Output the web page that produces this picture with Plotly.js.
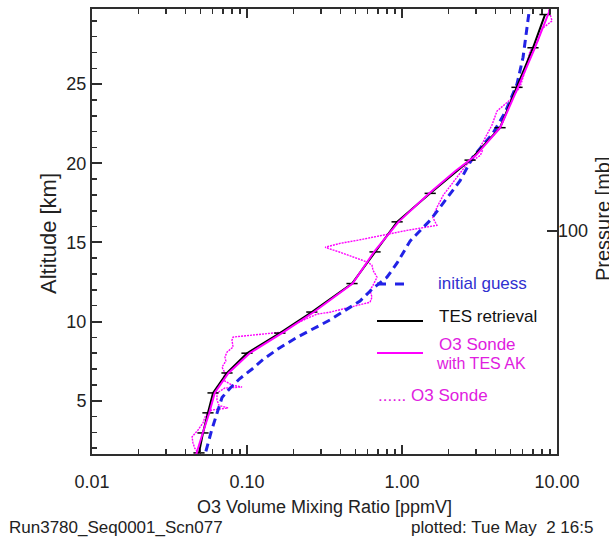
<!DOCTYPE html>
<html>
<head>
<meta charset="utf-8">
<script src="https://cdn.plot.ly/plotly-3.0.1.min.js"></script>
<style>html,body{margin:0;padding:0;background:#fff;}#chart{width:609px;height:542px;}</style>
</head>
<body>
<div id="chart"></div>
<script>
// ---- data ----
var guessAlt = [1.0, 1.6, 3.1, 4.2, 5.2, 5.8, 6.4, 7.0, 7.6, 8.3, 9.0, 10.1, 11.3, 12.1, 12.8, 13.7, 15.1, 16.4, 17.5, 18.9, 20.4, 21.9, 23.2, 25.0, 26.7, 29.3, 30.5];
var guessVmr = [0.052, 0.0536, 0.059, 0.064, 0.069, 0.078, 0.090, 0.108, 0.127, 0.160, 0.210, 0.343, 0.536, 0.650, 0.80, 0.93, 1.13, 1.52, 1.84, 2.37, 2.87, 3.86, 4.62, 5.52, 6.04, 6.6, 6.8];

var tesAlt = [1.7, 2.96, 4.23, 5.49, 6.75, 8.0, 9.27, 10.6, 12.4, 14.4, 16.3, 18.1, 20.2, 22.25, 24.8, 27.3, 29.4];
var tesVmr = [0.049, 0.052, 0.056, 0.0604, 0.0743, 0.100, 0.163, 0.262, 0.476, 0.67, 0.93, 1.52, 2.75, 4.29, 5.52, 7.0, 8.37];

var akAlt = [1.0, 1.6, 3.0, 4.2, 5.5, 6.75, 8.0, 9.3, 10.6, 12.4, 14.4, 16.3, 18.1, 19.5, 20.5, 22.25, 24.8, 27.3, 29.7, 30.5];
var akVmr = [0.046, 0.047, 0.052, 0.057, 0.062, 0.076, 0.104, 0.17, 0.27, 0.48, 0.66, 0.95, 1.5, 2.2, 3.0, 4.3, 5.6, 7.2, 9.0, 9.4];

var sondeAlt = [1.63, 1.70, 2.0, 2.33, 2.71, 3.15, 3.59, 3.97, 4.25, 4.41, 4.54, 4.7, 5.04, 5.49, 5.80, 5.86, 5.99, 6.31, 6.75, 7.12, 7.5, 7.76, 8.07, 8.39, 8.83, 9.02, 9.12, 9.2, 9.33, 9.5, 9.9, 10.28, 10.47, 10.59, 11.03, 11.22, 11.54, 11.98, 12.29, 12.8, 13.24, 13.56, 13.75, 14.0, 14.38, 14.69, 14.94, 15.13, 15.45, 15.76, 16.08, 16.58, 17.21, 18.0, 18.7, 19.3, 19.9, 20.5, 20.8, 21.0, 21.5, 22.4, 23.3, 24.0, 24.8, 25.8, 27.1, 27.7, 28.5, 29.0, 29.75];
var sondeVmr = [0.049, 0.0483, 0.046, 0.0448, 0.0442, 0.0483, 0.052, 0.0536, 0.056, 0.0594, 0.0754, 0.066, 0.064, 0.064, 0.0721, 0.0929, 0.080, 0.070, 0.0721, 0.069, 0.073, 0.0721, 0.0743, 0.0813, 0.080, 0.0813, 0.10, 0.121, 0.168, 0.18, 0.21, 0.255, 0.283, 0.343, 0.513, 0.622, 0.640, 0.622, 0.650, 0.69, 0.65, 0.64, 0.60, 0.513, 0.398, 0.319, 0.398, 0.513, 0.754, 1.077, 1.68, 1.58, 1.68, 1.85, 2.1, 2.35, 2.6, 3.2, 3.3, 3.19, 3.4, 3.8, 4.1, 4.97, 5.77, 6.2, 6.7, 7.5, 8.0, 9.3, 8.8];

var xTickLabelFormat = ".2f";          // gives 0.01, 0.10, 1.00, 10.00
var yTickStep = 5, yMinorStep = 1;
var pTickAlt = [15.75];
var pTickText = ["100"];

// ---- layout helpers (pixel -> paper) ----
var L = 92, R = 557, T = 9, B = 454;
function px(x){ return (x - L) / (R - L); }
function py(y){ return (B - y) / (B - T); }

var FONT = "Liberation Sans, Arial, sans-serif";
var BLUE = "#2222e6", MAG = "#ff00ff", AX = "#2e2e2e";

var traces = [
  {x: sondeVmr, y: sondeAlt, mode: "lines", line: {color: MAG, width: 1.4, dash: "2px,1px"}, showlegend: false, hoverinfo: "skip"},
  {x: guessVmr, y: guessAlt, mode: "lines", line: {color: BLUE, width: 3, dash: "8px,5px"}, showlegend: false, hoverinfo: "skip"},
  {x: tesVmr, y: tesAlt, mode: "lines+markers", line: {color: "#000", width: 2},
   marker: {symbol: "line-ew", size: 8, line: {color: "#000", width: 1.5}}, showlegend: false, hoverinfo: "skip"},
  {x: akVmr, y: akAlt, mode: "lines", line: {color: MAG, width: 2}, showlegend: false, hoverinfo: "skip"},
  {x: [], y: [], yaxis: "y2", showlegend: false}
];

var yRange = [1.63, 29.75];
var xRange = [-2, 1];

var layout = {
  width: 609, height: 542,
  margin: {l: L, r: 609 - R, t: T, b: 542 - B, pad: 0},
  paper_bgcolor: "#fff", plot_bgcolor: "#fff",
  font: {family: FONT, color: "#222"},
  showlegend: false,
  xaxis: {
    type: "log", range: xRange,
    tickmode: "linear", tick0: 0, dtick: 1, tickformat: xTickLabelFormat,
    ticks: "inside", ticklen: 9, tickwidth: 2, tickcolor: AX,
    showline: true, linecolor: AX, linewidth: 2, mirror: "ticks",
    showgrid: false, zeroline: false,
    tickfont: {family: FONT, size: 18, color: "#222"},
    ticklabelstandoff: 10,
    minor: {ticks: "inside", ticklen: 5, tickwidth: 1.5, tickcolor: AX, dtick: "D1", showgrid: false},
    title: {text: "O3 Volume Mixing Ratio [ppmV]", font: {family: FONT, size: 18, color: "#222"}, standoff: 10}
  },
  yaxis: {
    range: yRange,
    tickmode: "linear", tick0: 0, dtick: yTickStep,
    ticks: "inside", ticklen: 10, tickwidth: 2, tickcolor: AX,
    showline: true, linecolor: AX, linewidth: 2, mirror: true,
    showgrid: false, zeroline: false,
    tickfont: {family: FONT, size: 18, color: "#222"},
    minor: {ticks: "inside", ticklen: 5, tickwidth: 1.5, tickcolor: AX, tick0: 0, dtick: yMinorStep, showgrid: false}
  },
  yaxis2: {
    overlaying: "y", side: "right", range: yRange,
    tickmode: "array", tickvals: pTickAlt, ticktext: pTickText,
    ticks: "inside", ticklen: 10, tickwidth: 2, tickcolor: AX,
    showline: false, showgrid: false, zeroline: false,
    tickfont: {family: FONT, size: 18, color: "#222"}
  },
  shapes: [
    {type: "line", xref: "paper", yref: "paper", x0: px(377), x1: px(411), y0: py(284), y1: py(284), line: {color: BLUE, width: 3, dash: "9px,9px"}},
    {type: "line", xref: "paper", yref: "paper", x0: px(377), x1: px(423), y0: py(321), y1: py(321), line: {color: "#000", width: 2}},
    {type: "line", xref: "paper", yref: "paper", x0: px(377), x1: px(423), y0: py(353), y1: py(353), line: {color: MAG, width: 2}}
  ],
  annotations: [
    {text: "Altitude [km]", xref: "paper", yref: "paper", x: px(48), y: py(234), xanchor: "center", yanchor: "middle", textangle: -90, showarrow: false, font: {family: FONT, size: 22, color: "#222"}},
    {text: "initial guess", xref: "paper", yref: "paper", x: px(436), y: py(283), xanchor: "left", yanchor: "middle", showarrow: false, font: {family: FONT, size: 17, color: "#3030d0"}},
    {text: "TES retrieval", xref: "paper", yref: "paper", x: px(437), y: py(316), xanchor: "left", yanchor: "middle", showarrow: false, font: {family: FONT, size: 17, color: "#111"}},
    {text: "O3 Sonde", xref: "paper", yref: "paper", x: px(477), y: py(344), xanchor: "center", yanchor: "middle", showarrow: false, font: {family: FONT, size: 17, color: "#e020e0"}},
    {text: "with TES AK", xref: "paper", yref: "paper", x: px(481), y: py(363), xanchor: "center", yanchor: "middle", showarrow: false, font: {family: FONT, size: 16, color: "#e020e0"}},
    {text: "...... O3 Sonde", xref: "paper", yref: "paper", x: px(376), y: py(395), xanchor: "left", yanchor: "middle", showarrow: false, font: {family: FONT, size: 17, color: "#e020e0"}},
    {text: "Pressure [mb]", xref: "paper", yref: "paper", x: px(603), y: py(219), xanchor: "center", yanchor: "middle", textangle: -90, showarrow: false, font: {family: FONT, size: 20, color: "#222"}},
    {text: "Run3780_Seq0001_Scn077", xref: "paper", yref: "paper", x: px(7), y: py(527), xanchor: "left", yanchor: "middle", showarrow: false, font: {family: FONT, size: 17, color: "#222"}},
    {text: "plotted: Tue May\u00a0\u00a02 16:5", xref: "paper", yref: "paper", x: px(409), y: py(527), xanchor: "left", yanchor: "middle", showarrow: false, font: {family: FONT, size: 17, color: "#222"}}
  ]
};

Plotly.newPlot("chart", traces, layout, {staticPlot: true, displayModeBar: false});
</script>
</body>
</html>
